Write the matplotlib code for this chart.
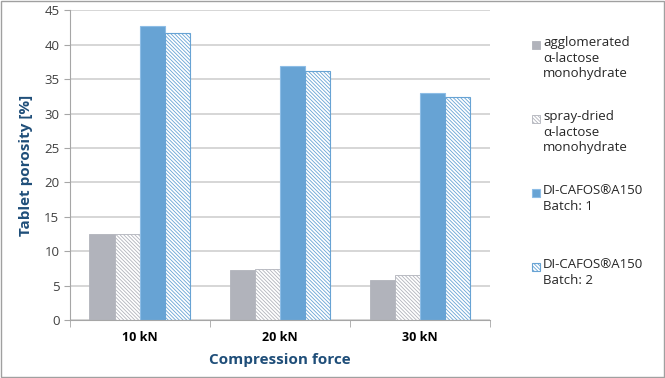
import numpy as np
import matplotlib.pyplot as plt
from matplotlib.patches import Rectangle

categories = ['10 kN', '20 kN', '30 kN']
agglomerated = [12.5, 7.3, 5.9]
spray_dried = [12.5, 7.4, 6.6]
batch1 = [42.7, 36.9, 33.0]
batch2 = [41.7, 36.2, 32.4]
labels = ['agglomerated\nα-lactose\nmonohydrate',
          'spray-dried\nα-lactose\nmonohydrate',
          'DI-CAFOS®A150\nBatch: 1',
          'DI-CAFOS®A150\nBatch: 2']

plt.rcParams['font.family'] = ['Open Sans', 'DejaVu Sans']
plt.rcParams['hatch.linewidth'] = 0.6

fig = plt.figure(figsize=(6.65, 3.78), dpi=100)
ax = fig.add_axes([0.105, 0.153, 0.632, 0.82])

gray = '#B1B3BB'
blue = '#67A3D4'
hatch = '\\' * 9
x = np.arange(len(categories))
w = 0.18
offs = [-1.5 * w, -0.5 * w, 0.5 * w, 1.5 * w]

styles = [
    dict(facecolor=gray, edgecolor=gray, linewidth=0.6),
    dict(facecolor='white', edgecolor=gray, hatch=hatch, linewidth=0.6),
    dict(facecolor=blue, edgecolor='#8DBDE6', linewidth=0.8),
    dict(facecolor='white', edgecolor=blue, hatch=hatch, linewidth=0.8),
]
series = [agglomerated, spray_dried, batch1, batch2]
for vals, off, st in zip(series, offs, styles):
    ax.bar(x + off, vals, w, **st)

ax.set_ylim(0, 45)
ax.set_xlim(-0.5, 2.5)
ax.set_yticks(range(0, 46, 5))
ax.yaxis.grid(True, color='#D0D0D0', linewidth=1.2)
ax.set_axisbelow(True)
for s in ['top', 'right']:
    ax.spines[s].set_visible(False)
ax.spines['left'].set_color('#A6A6A6')
ax.spines['bottom'].set_color('#A6A6A6')
ax.tick_params(axis='y', length=4, color='#A6A6A6', labelsize=9.5, labelcolor='#404040')
ax.set_xticks(x)
ax.set_xticklabels(categories, fontsize=9, fontweight='bold')
ax.tick_params(axis='x', length=0, pad=8)
ax.set_xticks([-0.5, 0.5, 1.5, 2.5], minor=True)
ax.tick_params(axis='x', which='minor', length=5, color='#A6A6A6')

ax.set_ylabel('Tablet porosity [%]', fontsize=11, fontweight='bold', color='#1F4E79', labelpad=8)
ax.set_xlabel('Compression force', fontsize=11, fontweight='bold', color='#1F4E79', labelpad=6)

# legend drawn by hand so the marker lines up with the first text line
W, H = 665, 378
tops = [36, 110, 184, 258]
for lab, st, ty in zip(labels, styles, tops):
    fig.patches.append(Rectangle((532 / W, 1 - (ty + 13) / H), 8 / W, 8 / H,
                                 transform=fig.transFigure, **st))
    fig.text(543 / W, 1 - ty / H, lab, fontsize=9.5, va='top', ha='left',
             color='#262626', linespacing=1.25)

fig.patches.append(Rectangle((0.001, 0.002), 0.997, 0.995, transform=fig.transFigure,
                             fill=False, edgecolor='#A0A0A0', linewidth=1))

fig.savefig('out.png', dpi=100)
